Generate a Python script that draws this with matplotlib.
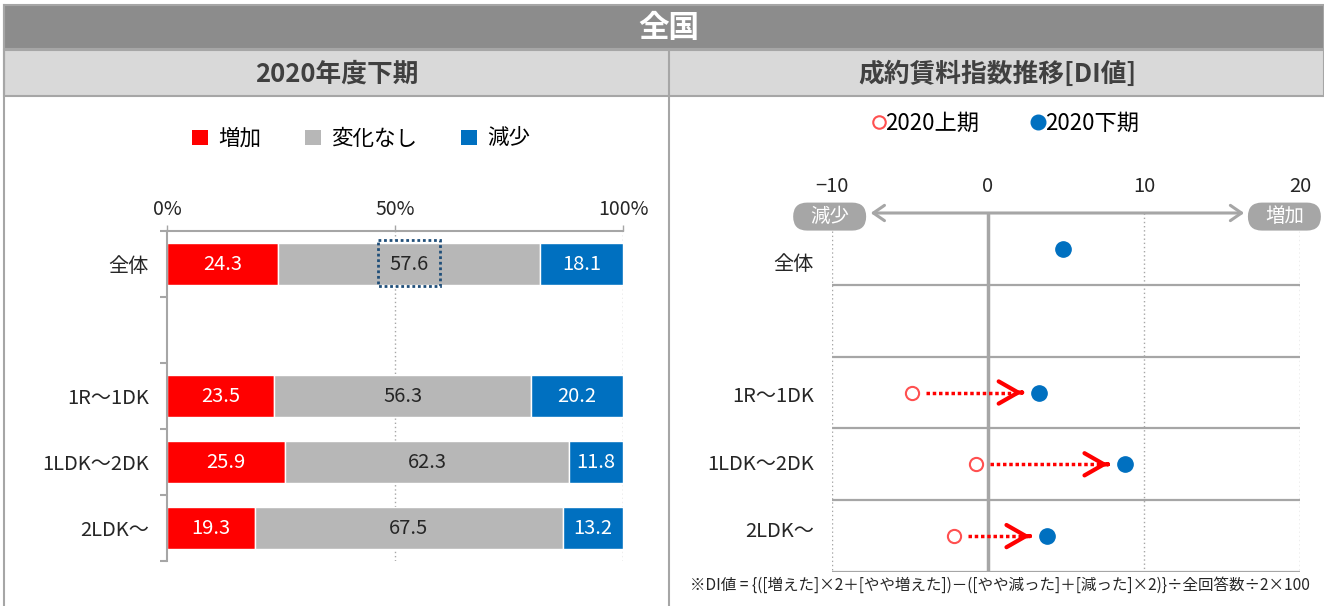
import numpy as np
import matplotlib
matplotlib.use("Agg")
import matplotlib.pyplot as plt
from matplotlib.patches import Rectangle, Patch, FancyBboxPatch
from matplotlib.lines import Line2D
from matplotlib.transforms import ScaledTranslation

plt.rcParams["font.family"] = ["Noto Sans CJK JP", "DejaVu Sans"]

W, H = 1324, 606

# ---- data ----
categories = ["全体", "", "1R～1DK", "1LDK～2DK", "2LDK～"]
increase = [24.3, np.nan, 23.5, 25.9, 19.3]
no_change = [57.6, np.nan, 56.3, 62.3, 67.5]
decrease = [18.1, np.nan, 20.2, 11.8, 13.2]
pct_ticks = [0, 50, 100]
pct_labels = ["0%", "50%", "100%"]

di_first = [np.nan, np.nan, -4.9, -0.8, -2.2]   # 2020上期
di_second = [4.8, np.nan, 3.3, 8.8, 3.8]        # 2020下期
di_ticks = [-10, 0, 10, 20]
di_labels = ["−10", "0", "10", "20"]

RED = "#ff0000"
GRAY = "#b7b7b7"
BLUE = "#0070c0"
LINE = "#a6a6a6"
TXT = "#262626"


def fx(px):
    return px / W


def fy(py):
    return 1 - py / H


fig = plt.figure(figsize=(W / 100, H / 100), dpi=100)

# ---- header bands ----
fig.patches.append(Rectangle((fx(4), fy(49)), fx(1324) - fx(4), fy(5) - fy(49),
                             transform=fig.transFigure, fc="#8c8c8c", ec="#a6a6a6", lw=1.5))
fig.patches.append(Rectangle((fx(4), fy(96)), fx(1324) - fx(4), fy(50) - fy(96),
                             transform=fig.transFigure, fc="#d9d9d9", ec="#a6a6a6", lw=1.5))
fig.add_artist(Line2D([fx(4), fx(4)], [fy(5), 0], transform=fig.transFigure, color=LINE, lw=1.5))
fig.add_artist(Line2D([fx(669), fx(669)], [fy(50), 0], transform=fig.transFigure, color=LINE, lw=1.5))
fig.text(fx(669), fy(28), "全国", color="white", fontsize=22, weight="bold", ha="center", va="center")
fig.text(fx(337), fy(74), "2020年度下期", color="#404040", fontsize=18.5, weight="bold",
         ha="center", va="center")
fig.text(fx(997), fy(74), "成約賃料指数推移[DI値]", color="#404040", fontsize=18.5, weight="bold",
         ha="center", va="center")

# ---- left: stacked bars ----
ax1 = fig.add_axes([fx(167), fy(561), fx(623) - fx(167), fy(231) - fy(561)])
y = np.arange(len(categories))
inc = np.array(increase)
same = np.array(no_change)
dec = np.array(decrease)
ax1.barh(y, inc, height=0.64, color=RED, edgecolor="white", lw=1, zorder=2)
ax1.barh(y, same, left=inc, height=0.64, color=GRAY, edgecolor="white", lw=1, zorder=2)
ax1.barh(y, dec, left=inc + same, height=0.64, color=BLUE, edgecolor="white", lw=1, zorder=2)
for i in range(len(categories)):
    if np.isnan(inc[i]):
        continue
    ax1.text(inc[i] / 2, i, f"{inc[i]:.1f}", color="white", fontsize=14.5, ha="center", va="center", zorder=3)
    ax1.text(inc[i] + same[i] / 2, i, f"{same[i]:.1f}", color=TXT, fontsize=14.5, ha="center", va="center", zorder=3)
    ax1.text(inc[i] + same[i] + dec[i] / 2, i, f"{dec[i]:.1f}", color="white", fontsize=14.5,
             ha="center", va="center", zorder=3)

# dotted highlight box around the overall "no change" value
ax1.add_patch(Rectangle((46.3, -0.36), 13.6, 0.70, fill=False, ec="#1f4e79", lw=2,
                        ls=(0, (1, 1)), zorder=4, clip_on=False))

for v in [50, 100]:
    ax1.axvline(v, color=LINE, ls=(0, (1, 2)), lw=1, zorder=0)

ax1.set_xlim(0, 100)
ax1.set_ylim(len(categories) - 0.5, -0.5)
ax1.xaxis.tick_top()
ax1.set_xticks(pct_ticks)
ax1.set_xticklabels(pct_labels, fontsize=14, color=TXT)
ax1.tick_params(axis="x", which="major", length=4, width=1, color=LINE, pad=4)
ax1.set_yticks(y)
ax1.set_yticklabels(categories, fontsize=14.5, color=TXT)
ax1.set_yticks(np.arange(-0.5, len(categories)), minor=True)
ax1.tick_params(axis="y", which="major", length=0, pad=13)
ax1.tick_params(axis="y", which="minor", length=5, width=1.5, color=LINE)
for s in ["right", "bottom"]:
    ax1.spines[s].set_visible(False)
for s in ["left", "top"]:
    ax1.spines[s].set_color(LINE)
    ax1.spines[s].set_linewidth(1.5)

leg_handles = [Patch(fc=RED, ec="none"), Patch(fc=GRAY, ec="none"), Patch(fc=BLUE, ec="none")]
fig.legend(leg_handles, ["増加", "変化なし", "減少"], loc="center", bbox_to_anchor=(fx(361), fy(139)),
           ncol=3, frameon=False, fontsize=15.5, handlelength=0.75, handleheight=0.75,
           handletextpad=0.5, columnspacing=2.0)

# ---- right: DI dots ----
ax2 = fig.add_axes([fx(832), fy(572), fx(1300) - fx(832), fy(213) - fy(572)])
ax2.set_xlim(-10, 20)
ax2.set_ylim(len(categories) - 0.5, -0.5)
ax2.axis("off")

ax2.vlines(0, -0.5, len(categories) - 0.45, color=LINE, lw=2.5, zorder=1)
ax2.vlines(10, -0.5, len(categories) - 0.5, color=LINE, lw=1, ls=(0, (1, 2)), zorder=1)
ax2.vlines([-10, 20], -0.25, len(categories) - 0.5, color=LINE, lw=1, ls=(0, (1, 2)), zorder=1)
ax2.hlines(np.arange(0.5, len(categories)), -10, 20, color=LINE, lw=1.6, zorder=1)

ax2.annotate("", xy=(16.6, -0.5), xytext=(-7.7, -0.5), xycoords="data",
             arrowprops=dict(arrowstyle="<->,head_length=0.8,head_width=0.55", color=LINE, lw=2.2),
             annotation_clip=False)
for label, xv in [("減少", -10.15), ("増加", 19.0)]:
    trans = fig.dpi_scale_trans + ScaledTranslation(xv, -0.45, ax2.transData)
    ax2.add_patch(FancyBboxPatch((-0.365, -0.14), 0.73, 0.28,
                                 boxstyle="round,pad=0,rounding_size=0.14",
                                 fc=LINE, ec="none", transform=trans, clip_on=False, zorder=3))
    ax2.text(xv, -0.45, label, color="white", fontsize=14, ha="center", va="center",
             clip_on=False, zorder=4)

for xv, lab in zip(di_ticks, di_labels):
    ax2.text(xv, -0.72, lab, fontsize=14.5, color=TXT, ha="center", va="bottom")

label_dy = [-11.5, 0, -3, 0, 3.5]
for i, cat in enumerate(categories):
    if not cat:
        continue
    ax2.annotate(cat, xy=(0, i), xycoords=ax2.get_yaxis_transform(), xytext=(-13, label_dy[i]),
                 textcoords="offset points", ha="right", va="center", fontsize=14.5, color=TXT,
                 annotation_clip=False)

first = np.array(di_first)
second = np.array(di_second)
for i in range(len(categories)):
    if np.isnan(first[i]) or np.isnan(second[i]):
        continue
    start = first[i] + 0.9
    tip = second[i] - 1.1
    ax2.plot([start, tip - 0.15], [i, i], color=RED, lw=2.5, ls=(0, (1, 0.8)),
             dash_capstyle="butt", zorder=2)
    ax2.annotate("", xy=(tip, i), xytext=(tip - 0.2, i),
                 arrowprops=dict(arrowstyle="->,head_length=1.4,head_width=0.8", color=RED, lw=3),
                 zorder=2)

ax2.plot(first, y, ls="none", marker="o", ms=9.5, mfc="white", mec="#ff5050", mew=1.5, zorder=3)
ax2.plot(second, y, ls="none", marker="o", ms=11, mfc=BLUE, mec=BLUE, zorder=3)

di_handles = [Line2D([], [], ls="none", marker="o", ms=9, mfc="white", mec="#ff5050", mew=1.5),
              Line2D([], [], ls="none", marker="o", ms=10.5, mfc=BLUE, mec=BLUE)]
fig.legend(di_handles, ["2020上期", "2020下期"], loc="center", bbox_to_anchor=(fx(1006), fy(123)),
           ncol=2, frameon=False, fontsize=16, handlelength=0.5, handletextpad=0.05,
           columnspacing=2.4)

fig.text(fx(690), fy(585),
         "※DI値 = {([増えた]×2＋[やや増えた])－([やや減った]＋[減った]×2)}÷全回答数÷2×100",
         fontsize=11.2, color=TXT, ha="left", va="center")

fig.savefig("out.png", dpi=100)
